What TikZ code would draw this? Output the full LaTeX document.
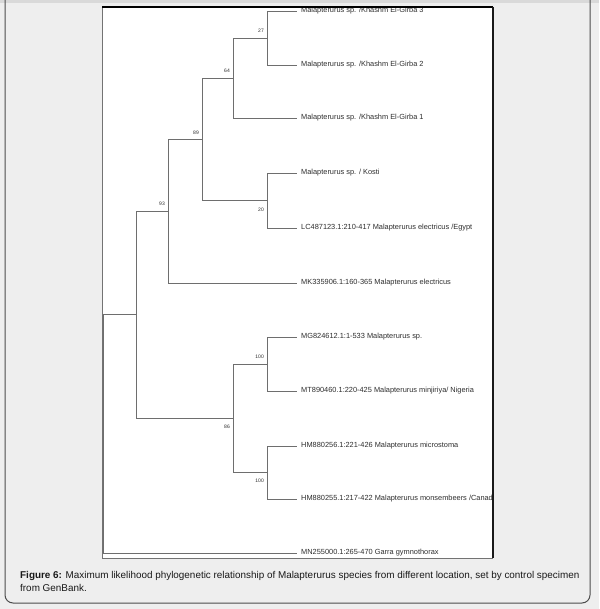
\documentclass[tikz,border=0pt]{standalone}
\usepackage{fontspec}
\setmainfont{Liberation Sans}
\usetikzlibrary{positioning}
\definecolor{pagegray}{HTML}{EEEEEE}
\definecolor{branchgray}{HTML}{6E6E6E}
\definecolor{labelgray}{HTML}{2E2E2E}

\begin{document}
\begin{tikzpicture}[x=1pt, y=-1pt,
    branch/.style={draw=branchgray, line width=0.8pt},
    taxon/.style={anchor=west, inner xsep=4pt, inner ysep=0pt, font=\fontsize{7.4}{8}\selectfont, text=labelgray},
    boot/.style={inner sep=0pt, font=\fontsize{5}{6}\selectfont, text=labelgray}
]
\useasboundingbox (0,0) rectangle (599,609);
% page background and frame
\fill[pagegray] (0,0) rectangle (599,609);
\fill[black!15] (0,0) rectangle (599,3);
\draw[rounded corners=8pt, line width=1pt, draw=black!70] (5,-10) -- (5,603) -- (590,603) -- (590,-10);

% tree panel
\fill[white] (102,7) rectangle (493,558);

% taxa (cut off at the panel edge)
\begin{scope}
\clip (102,7) rectangle (493,558);
\node[taxon] (k3)     at (297,11)  {Malapterurus sp. /Khashm El-Girba 3};
\node[taxon] (k2)     at (297,65)  {Malapterurus sp. /Khashm El-Girba 2};
\node[taxon] (k1)     at (297,118) {Malapterurus sp. /Khashm El-Girba 1};
\node[taxon] (kosti)  at (297,173) {Malapterurus sp. / Kosti};
\node[taxon] (egypt)  at (297,228) {LC487123.1:210-417 Malapterurus electricus /Egypt};
\node[taxon] (mk)     at (297,283) {MK335906.1:160-365 Malapterurus electricus};
\node[taxon] (mg)     at (297,337) {MG824612.1:1-533 Malapterurus sp.};
\node[taxon] (mt)     at (297,391) {MT890460.1:220-425 Malapterurus minjiriya/ Nigeria};
\node[taxon] (hm256)  at (297,446) {HM880256.1:221-426 Malapterurus microstoma};
\node[taxon] (hm255)  at (297,499) {HM880255.1:217-422 Malapterurus monsembeers /Canada};
\node[taxon] (mn)     at (297,553) {MN255000.1:265-470 Garra gymnothorax};
\end{scope}

% internal nodes
\coordinate (n27)   at (267,38);
\coordinate (n64)   at (233,78);
\coordinate (n20)   at (267,200.5);
\coordinate (n89)   at (202,139.5);
\coordinate (n93)   at (168,211);
\coordinate (n100a) at (267,364);
\coordinate (n100b) at (267,472.5);
\coordinate (n86)   at (233,418);
\coordinate (n0)    at (136,314);
\coordinate (root)  at (103,433.5);

% branches
\draw[branch] (n27) |- (k3.west);
\draw[branch] (n27) |- (k2.west);
\draw[branch] (n64) |- (n27);
\draw[branch] (n64) |- (k1.west);
\draw[branch] (n20) |- (kosti.west);
\draw[branch] (n20) |- (egypt.west);
\draw[branch] (n89) |- (n64);
\draw[branch] (n89) |- (n20);
\draw[branch] (n93) |- (n89);
\draw[branch] (n93) |- (mk.west);
\draw[branch] (n100a) |- (mg.west);
\draw[branch] (n100a) |- (mt.west);
\draw[branch] (n100b) |- (hm256.west);
\draw[branch] (n100b) |- (hm255.west);
\draw[branch] (n86) |- (n100a);
\draw[branch] (n86) |- (n100b);
\draw[branch] (n0) |- (n93);
\draw[branch] (n0) |- (n86);
\draw[branch] (root) |- (n0);
\draw[branch] (root) |- (mn.west);

% bootstrap values
\node[boot, above left=5pt and 3pt of n27]   (b27)  {27};
\node[boot, above left=5pt and 3pt of n64]   (b64)  {64};
\node[boot, above left=5pt and 3pt of n89]   (b89)  {89};
\node[boot, above left=5pt and 3pt of n93]   (b93)  {93};
\node[boot, below left=7pt and 3pt of n20]   (b20)  {20};
\node[boot, above left=5pt and 3pt of n100a] (b100a){100};
\node[boot, below left=7pt and 3pt of n86]   (b86)  {86};
\node[boot, below left=6pt and 3pt of n100b] (b100b){100};

% panel border
\draw[black!55] (102,7) -- (102,558) -- (493,558);
\draw[black, line width=1.5pt] (102,7) -- (493,7);
\draw[black!90, line width=1.2pt] (493,7) -- (493,558);

% caption
\node[anchor=west, align=left, inner sep=0pt, font=\fontsize{9.9}{13}\selectfont, text=black!90] (caption) at (20,581.5)
  {\textbf{Figure 6:} Maximum likelihood phylogenetic relationship of Malapterurus species from different location, set by control specimen\\from GenBank.};
\end{tikzpicture}
\end{document}
